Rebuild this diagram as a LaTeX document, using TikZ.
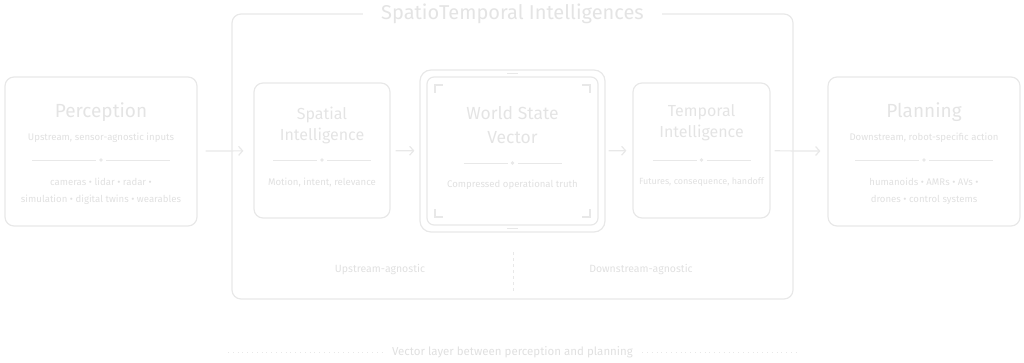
\documentclass[tikz,border=0pt]{standalone}
\usepackage{fontspec}
\setmainfont{Fira Sans}
\usetikzlibrary{positioning,arrows.meta,calc}
\definecolor{framegray}{HTML}{E8E8E8}
\definecolor{textgray}{HTML}{E0E0E0}
\definecolor{headgray}{HTML}{E4E4E4}

% small divider: line, dot, line
\newcommand{\stagerule}[3]{%
  \draw[framegray, line width=0.8pt] (#1-#3,#2) -- (#1-5,#2);
  \draw[framegray, line width=0.8pt] (#1+5,#2) -- (#1+#3,#2);
  \fill[framegray] (#1,#2) circle (1.8pt);
}

\begin{document}
\begin{tikzpicture}[x=1pt, y=-1pt,
  stagebox/.style={draw=framegray, line width=1.2pt, rounded corners=9pt, minimum height=135pt},
  headtxt/.style={text=headgray, font=\fontsize{16}{21}\selectfont, align=center},
  subtxt/.style={text=textgray, font=\fontsize{9.6}{17}\selectfont, align=center},
  flow/.style={-{Straight Barb[length=4pt,width=9pt]}, draw=framegray, line width=1.2pt},
  dotline/.style={framegray, line width=0.8pt, dash pattern=on 0.8pt off 4pt}
]
\useasboundingbox (0,0) rectangle (1024,363);

% outer frame
\node[draw=framegray, line width=1.2pt, rounded corners=9pt, minimum width=561pt, minimum height=285pt] (sti) at (512.5,156.5) {};
\node[fill=white, inner xsep=18pt, text=headgray, font=\fontsize{20}{22}\selectfont] (stititle) at (sti.north) {SpatioTemporal Intelligences};

% stages
\node[stagebox, minimum width=192pt, minimum height=149pt] (perc) at (101,151.5) {};
\node[stagebox, minimum width=136pt] (spat) at (322,150.5) {};
\node[draw=framegray, line width=1.2pt, rounded corners=11pt, minimum width=185pt, minimum height=162pt] (wsv) at (512.5,151) {};
\node[draw=framegray, line width=1.2pt, rounded corners=7pt, minimum width=171pt, minimum height=148pt] (wsvin) at (512.5,151) {};
\node[stagebox, minimum width=137pt] (temp) at (701.5,150.5) {};
\node[stagebox, minimum width=192pt, minimum height=149pt] (plan) at (924,151.5) {};

% corner marks of the vector box
\foreach \cx/\cy/\sx/\sy in {435/85/1/1, 590/85/-1/1, 435/217/1/-1, 590/217/-1/-1}
  \draw[framegray, line width=1.2pt] (\cx+8*\sx,\cy) -- (\cx,\cy) -- (\cx,\cy+8*\sy);
\foreach \ty in {73.5, 228.5}
  \draw[framegray, line width=1.2pt] (507,\ty) -- (518,\ty);

% texts
\node[headtxt, font=\fontsize{19}{21}\selectfont] (perctitle) at (101,112) {Perception};
\node[subtxt] (percsub) at (101,138) {Upstream, sensor-agnostic inputs};
\stagerule{101}{160}{69}
\node[subtxt] (percin) at (101,191.5) {cameras • lidar • radar •\\simulation • digital twins • wearables};

\node[headtxt] (spattitle) at (322,125.5) {Spatial\\Intelligence};
\stagerule{322}{160}{49}
\node[subtxt] (spatsub) at (322,183) {Motion, intent, relevance};

\node[headtxt, font=\fontsize{17.5}{24}\selectfont] (wsvtitle) at (512.5,125) {World State\\Vector};
\stagerule{512.5}{163}{49}
\node[subtxt] (wsvsub) at (512.5,185) {Compressed operational truth};

\node[headtxt] (temptitle) at (701.5,123) {Temporal\\Intelligence};
\stagerule{701.5}{160}{49}
\node[subtxt, font=\fontsize{9}{17}\selectfont] (tempsub) at (701.5,182) {Futures, consequence, handoff};

\node[headtxt, font=\fontsize{19}{21}\selectfont] (plantitle) at (924,112) {Planning};
\node[subtxt] (plansub) at (924,138) {Downstream, robot-specific action};
\stagerule{924}{160}{69}
\node[subtxt] (planout) at (924,191.5) {humanoids • AMRs • AVs •\\drones • control systems};

% flow
\draw[flow, shorten <=8pt, shorten >=10pt] (perc) -- (spat);
\draw[flow, shorten <=5pt, shorten >=5pt] (spat) -- (wsv);
\draw[flow, shorten <=3pt, shorten >=6pt] (wsv) -- (temp);
\draw[flow, shorten <=4pt, shorten >=7pt] (temp) -- (plan);

% agnostic halves
\coordinate (splittop) at (513,252);
\coordinate (splitbot) at (513,292);
\draw[framegray, dashed, line width=0.6pt] (splittop) -- (splitbot);
\node[subtxt, font=\fontsize{10.5}{12}\selectfont] (upag) at (380,270) {Upstream-agnostic};
\node[subtxt, font=\fontsize{10.5}{12}\selectfont] (downag) at (641,270) {Downstream-agnostic};

% caption
\node[subtxt, inner xsep=9pt, font=\fontsize{11.5}{13}\selectfont] (vlayer) at (512.5,352) {Vector layer between perception and planning};
\coordinate (vleft) at (228,352);
\coordinate (vright) at (797,352);
\draw[dotline] (vleft) -- (vlayer.west);
\draw[dotline] (vlayer.east) -- (vright);
\end{tikzpicture}
\end{document}
